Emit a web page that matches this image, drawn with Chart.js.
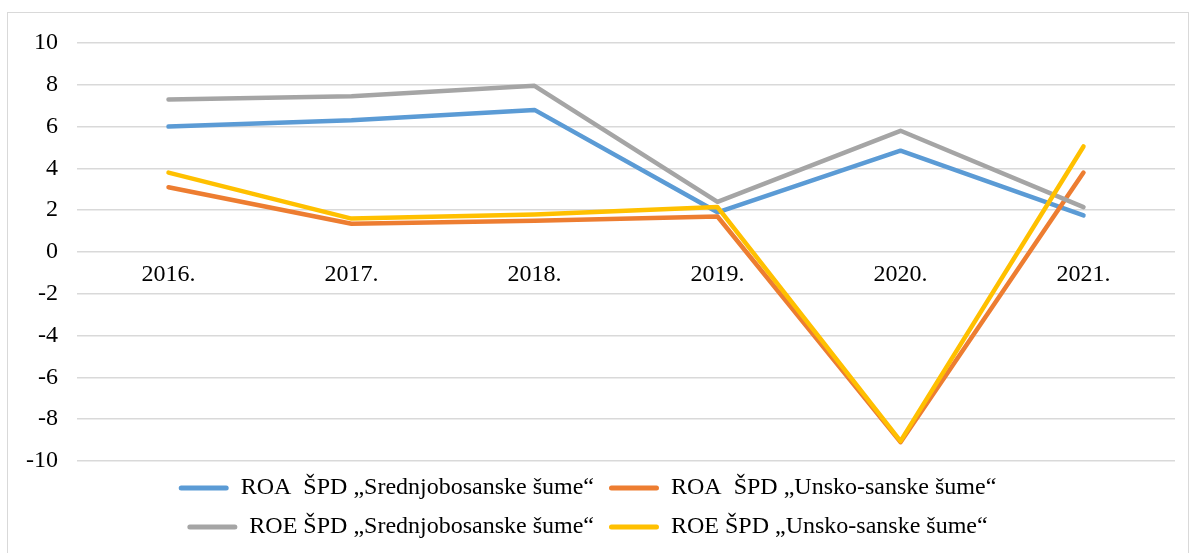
<!DOCTYPE html>
<html>
<head>
<meta charset="utf-8">
<script src="https://cdn.jsdelivr.net/npm/chart.js@4.4.1/dist/chart.umd.min.js"></script>
<style>
  html, body { margin: 0; padding: 0; background: #fff; }
  #wrap { position: relative; width: 1193px; height: 553px; overflow: hidden; }
  #frame { position: absolute; left: 7px; top: 12px; width: 1182px; height: 600px; border: 1.5px solid #d9d9d9; box-sizing: border-box; }
  canvas { position: absolute; left: 0; top: 0; }
</style>
</head>
<body>
<div id="wrap">
  <div id="frame"></div>
  <canvas id="c" width="1193" height="553"></canvas>
</div>
<script>
const categories = ["2016.", "2017.", "2018.", "2019.", "2020.", "2021."];
const roaSrednjobosanske = [6.0, 6.3, 6.8, 1.9, 4.85, 1.75];
const roaUnskoSanske = [3.1, 1.35, 1.5, 1.7, -9.1, 3.8];
const roeSrednjobosanske = [7.3, 7.45, 7.95, 2.4, 5.8, 2.15];
const roeUnskoSanske = [3.8, 1.6, 1.8, 2.15, -9.05, 5.05];
const yTicks = [10, 8, 6, 4, 2, 0, -2, -4, -6, -8, -10];

const names = [
  "ROA  ŠPD „Srednjobosanske šume“",
  "ROA  ŠPD „Unsko-sanske šume“",
  "ROE ŠPD „Srednjobosanske šume“",
  "ROE ŠPD „Unsko-sanske šume“"
];
const colors = ["#5B9BD5", "#ED7D31", "#A5A5A5", "#FFC000"];
const series = [roaSrednjobosanske, roaUnskoSanske, roeSrednjobosanske, roeUnskoSanske];
const drawOrder = [3, 2, 1, 0];

const FONT = "'Liberation Serif', 'Times New Roman', serif";

new Chart(document.getElementById('c'), {
  type: 'line',
  data: {
    labels: categories,
    datasets: series.map((d, i) => ({
      label: names[i],
      data: d,
      borderColor: colors[i],
      backgroundColor: colors[i],
      borderWidth: 4.5,
      pointRadius: 0,
      pointHoverRadius: 0,
      tension: 0,
      borderCapStyle: 'round',
      borderJoinStyle: 'round',
      order: drawOrder[i]
    }))
  },
  options: {
    responsive: false,
    animation: false,
    events: [],
    layout: { padding: { top: 43, right: 18, bottom: 4, left: 0 } },
    plugins: {
      tooltip: { enabled: false },
      legend: {
        position: 'bottom',
        labels: {
          font: { family: FONT, size: 24 },
          color: '#000',
          boxWidth: 50,
          boxHeight: 5,
          padding: 15,
          generateLabels: (chart) => chart.data.datasets.map((ds, i) => ({
            text: ds.label,
            fillStyle: ds.borderColor,
            strokeStyle: ds.borderColor,
            lineWidth: 0,
            borderRadius: 2.5,
            hidden: false,
            datasetIndex: i,
            fontColor: '#000'
          }))
        }
      }
    },
    scales: {
      x: {
        type: 'category',
        position: { y: 0 },
        offset: true,
        grid: { display: false, drawTicks: false },
        border: { display: false },
        ticks: {
          font: { family: FONT, size: 24 },
          color: '#000',
          padding: 8,
          maxRotation: 0
        }
      },
      y: {
        min: -10,
        max: 10,
        afterBuildTicks: (scale) => { scale.ticks = yTicks.map(v => ({ value: v })); },
        afterFit: (scale) => { scale.width = 77; },
        grid: { color: '#d9d9d9', lineWidth: 1.5, drawTicks: false },
        border: { display: false },
        ticks: {
          font: { family: FONT, size: 24 },
          color: '#000',
          padding: 19
        }
      }
    }
  }
});
</script>
</body>
</html>
